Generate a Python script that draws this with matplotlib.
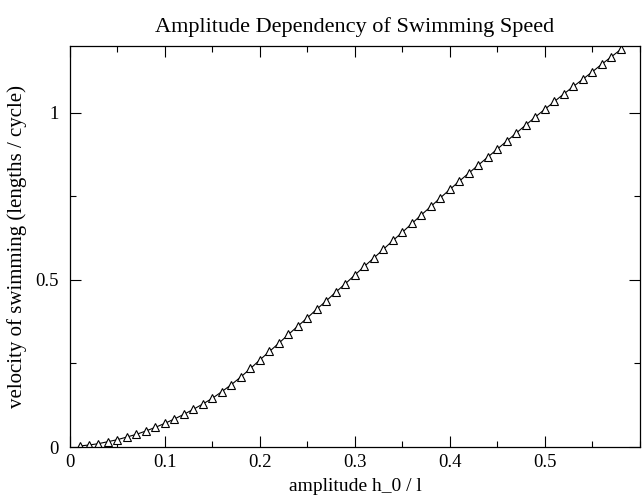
import matplotlib
matplotlib.use("Agg")
import matplotlib.pyplot as plt
from matplotlib.ticker import MultipleLocator

plt.rcParams['font.family'] = ['Liberation Serif', 'DejaVu Serif']

# amplitude h_0 / l and swimming velocity
amplitude = [0.01, 0.02, 0.03, 0.04, 0.05, 0.06, 0.07, 0.08, 0.09, 0.10,
             0.11, 0.12, 0.13, 0.14, 0.15, 0.16, 0.17, 0.18, 0.19, 0.20,
             0.21, 0.22, 0.23, 0.24, 0.25, 0.26, 0.27, 0.28, 0.29, 0.30,
             0.31, 0.32, 0.33, 0.34, 0.35, 0.36, 0.37, 0.38, 0.39, 0.40,
             0.41, 0.42, 0.43, 0.44, 0.45, 0.46, 0.47, 0.48, 0.49, 0.50,
             0.51, 0.52, 0.53, 0.54, 0.55, 0.56, 0.57, 0.58]
velocity = [0.003, 0.006, 0.010, 0.016, 0.022, 0.030, 0.038, 0.048, 0.059, 0.071,
            0.084, 0.098, 0.113, 0.129, 0.146, 0.166, 0.187, 0.210, 0.235, 0.261,
            0.286, 0.311, 0.337, 0.362, 0.387, 0.413, 0.438, 0.464, 0.489, 0.515,
            0.541, 0.566, 0.592, 0.618, 0.643, 0.669, 0.695, 0.720, 0.746, 0.771,
            0.796, 0.820, 0.844, 0.868, 0.892, 0.916, 0.940, 0.964, 0.988, 1.011,
            1.034, 1.057, 1.079, 1.101, 1.123, 1.146, 1.168, 1.190]

x_ticks = [0, 0.1, 0.2, 0.3, 0.4, 0.5]
x_tick_labels = ["0", "0.1", "0.2", "0.3", "0.4", "0.5"]
y_ticks = [0, 0.5, 1]
y_tick_labels = ["0", "0.5", "1"]

fig = plt.figure(figsize=(6.44, 4.98), dpi=100)
ax = fig.add_axes([0.1087, 0.1024, 0.885, 0.8052])

ax.plot(amplitude, velocity, color='black', linewidth=0.8,
        marker='^', markersize=6, markerfacecolor='white',
        markeredgecolor='black', markeredgewidth=0.8)

ax.set_xlim(0, 0.6)
ax.set_ylim(0, 1.2)
ax.set_xticks(x_ticks)
ax.set_xticklabels(x_tick_labels)
ax.set_yticks(y_ticks)
ax.set_yticklabels(y_tick_labels)
ax.xaxis.set_minor_locator(MultipleLocator(0.05))
ax.yaxis.set_minor_locator(MultipleLocator(0.25))
ax.tick_params(which='both', direction='in', top=True, right=True,
               labelsize=13.5, width=0.8)
ax.tick_params(which='major', length=8)
ax.tick_params(axis='y', which='major', pad=8)
ax.tick_params(axis='x', which='major', pad=5)
ax.tick_params(which='minor', length=4)
for s in ax.spines.values():
    s.set_linewidth(0.9)

ax.set_title("Amplitude Dependency of Swimming Speed", fontsize=16, pad=10)
ax.set_xlabel("amplitude h_0 / l", fontsize=14, labelpad=5)
ax.set_ylabel("velocity of swimming (lengths / cycle)", fontsize=15, labelpad=6)

fig.savefig("out.png", dpi=100)
